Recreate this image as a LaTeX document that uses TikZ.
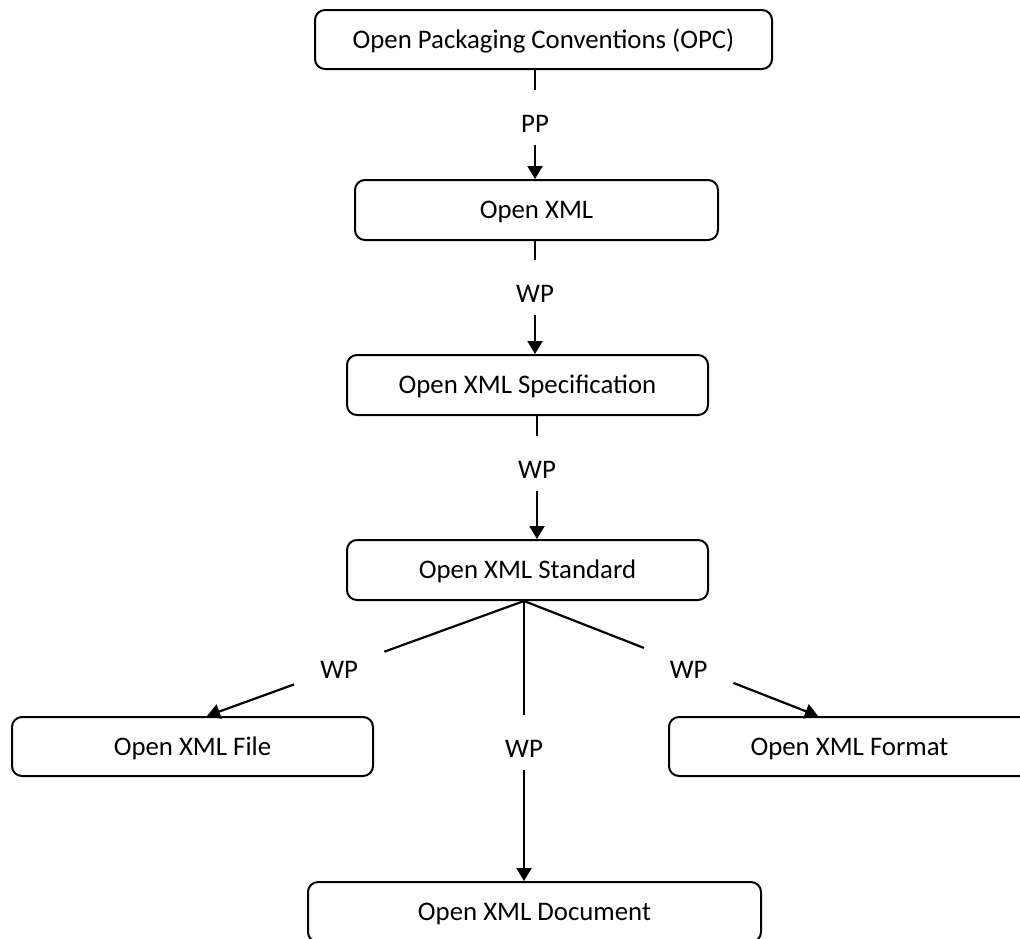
\documentclass[tikz,border=0pt]{standalone}
\usepackage{fontspec}
\setmainfont{Carlito}
\usetikzlibrary{arrows.meta,calc}
\begin{document}
\begin{tikzpicture}[x=1pt,y=-1pt,
  lbl/.style={font=\fontsize{26.8}{31}\selectfont},
  box/.style={lbl, draw, line width=2pt, rounded corners=10pt, inner sep=0pt,
    text height=17pt, text depth=0pt},
  vlab/.style={lbl, inner sep=0pt, anchor=base, text height=42pt, text depth=13pt},
  slab/.style={lbl, inner sep=0pt, minimum width=90pt, text depth=0pt},
  conn/.style={line width=2.2pt},
  arr/.style={conn, -{Triangle[length=13pt,width=15pt]}}]
\useasboundingbox (0,0) rectangle (1020,938);
\clip (0,0) rectangle (1020,938);

% boxes
\node[box, minimum width=457pt, minimum height=59pt] (opc)  at (543.5,39.5) {Open Packaging Conventions (OPC)};
\node[box, minimum width=363pt, minimum height=60pt] (xml)  at (536.5,210)  {Open XML};
\node[box, minimum width=361pt, minimum height=60pt] (spec) at (527.5,385)  {Open XML Specification};
\node[box, minimum width=361pt, minimum height=60pt] (std)  at (527.5,570)  {Open XML Standard};
\node[box, minimum width=361pt, minimum height=59pt] (file) at (192.5,746.5) {Open XML File};
\node[box, minimum width=361pt, minimum height=59pt] (fmt)  at (849.5,746.5) {Open XML Format};
\node[box, minimum width=453pt, minimum height=60pt] (doc)  at (534.5,912)  {Open XML Document};

% labels on the vertical links
\node[vlab] (pp)  at (535,132) {PP};
\node[vlab] (wp1) at (535,302) {WP};
\node[vlab] (wp2) at (537,478) {WP};
\node[vlab] (wpm) at (524,757) {WP};

% vertical links
\draw[conn] (pp.north |- opc.south) -- (pp.north);
\draw[arr]  (pp.south) -- (pp.south |- xml.north);
\draw[conn] (wp1.north |- xml.south) -- (wp1.north);
\draw[arr]  (wp1.south) -- (wp1.south |- spec.north);
\draw[conn] (wp2.north |- spec.south) -- (wp2.north);
\draw[arr]  (wp2.south) -- (wp2.south |- std.north);

% fan out of the standard
\coordinate (hub)     at ($(std.south)+(-3.5,0)$);
\coordinate (fileTip) at ($(file.north)+(14.5,0)$);
\coordinate (fmtTip)  at ($(fmt.north)+(-31.5,0)$);
\node[slab, minimum height=32.5pt, text height=20.5pt] (wpl) at ($(hub)!0.583!(fileTip)$) {WP};
\node[slab, minimum height=34.6pt, text height=25.5pt] (wpr) at ($(hub)!0.56!(fmtTip)$) {WP};

\draw[conn] (hub) -- (wpl);
\draw[arr]  (wpl) -- (fileTip);
\draw[conn] (hub) -- (wpr);
\draw[arr]  (wpr) -- (fmtTip);
\draw[conn] (hub) -- (wpm.north);
\draw[arr]  (wpm.south) -- (wpm.south |- doc.north);
\end{tikzpicture}
\end{document}
